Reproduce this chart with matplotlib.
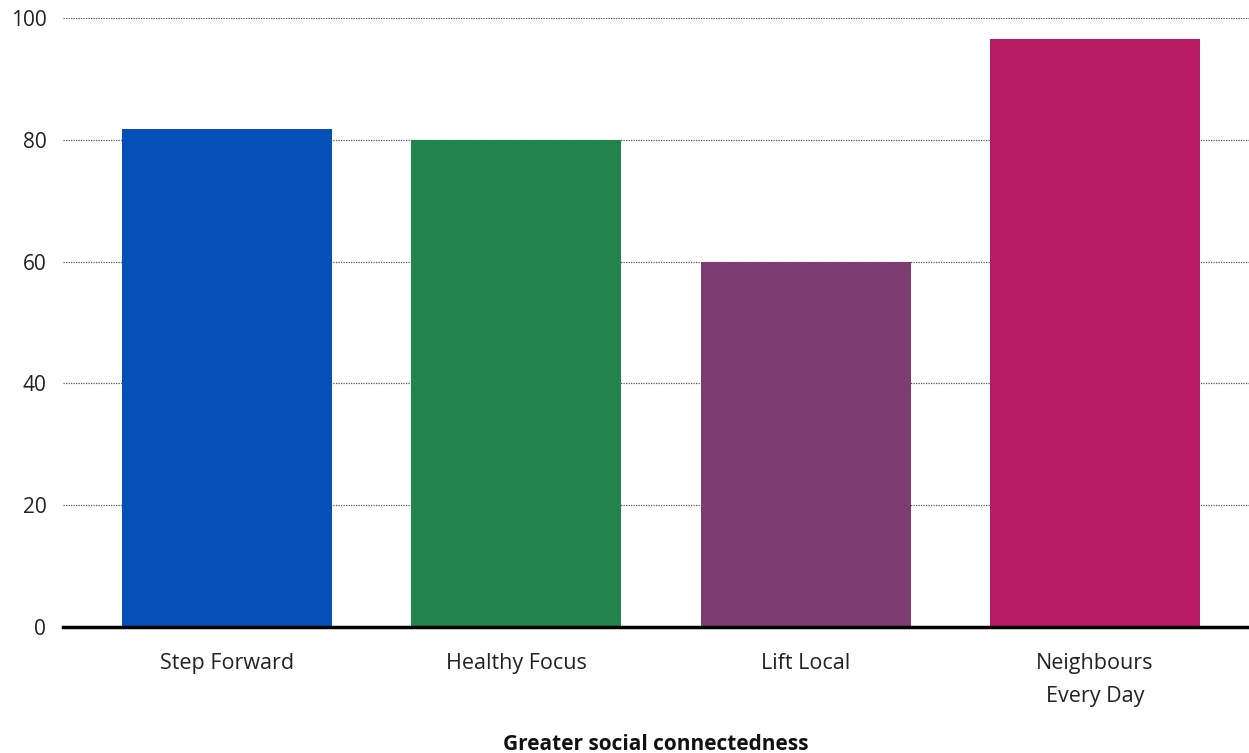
import matplotlib
matplotlib.use("Agg")
import matplotlib.pyplot as plt

categories = ["Step Forward", "Healthy Focus", "Lift Local", "Neighbours\nEvery Day"]
values = [81.8, 80.0, 60.0, 96.5]
colors = ["#0550B8", "#22844B", "#7E3D72", "#B51A62"]
yticks = [0, 20, 40, 60, 80, 100]
xlabel = "Greater social connectedness"

plt.rcParams["font.family"] = ["Open Sans", "DejaVu Sans"]

fig = plt.figure(figsize=(12.49, 7.53), dpi=100)
ax = fig.add_axes([63 / 1249, 1 - 627 / 753, 1 - 63 / 1249, (627 - 18) / 753])

x = list(range(len(categories)))
ax.bar(x, values, width=0.726, color=colors, zorder=2)

ax.set_xlim(-0.567, 3.532)
ax.set_ylim(0, 100)
ax.set_yticks(yticks)
ax.set_xticks(x)
ax.set_xticklabels(categories, fontsize=15.5, color="#222222", linespacing=1.7)
ax.tick_params(axis="y", length=0, pad=12, labelsize=15, labelcolor="#222222")
ax.tick_params(axis="x", length=0, pad=19)
for lab in ax.get_yticklabels():
    lab.set_horizontalalignment("right")

ax.yaxis.grid(True, linestyle=(0, (1, 1)), color="#555555", linewidth=0.9, zorder=1)
ax.set_axisbelow(True)
for s in ["top", "right", "left"]:
    ax.spines[s].set_visible(False)
ax.spines["bottom"].set_linewidth(2.5)
ax.spines["bottom"].set_color("black")
ax.spines["bottom"].set_zorder(3)

ax.set_xlabel(xlabel, fontsize=15, fontweight="bold", color="#111111", labelpad=20)

fig.savefig("out.png", dpi=100)
